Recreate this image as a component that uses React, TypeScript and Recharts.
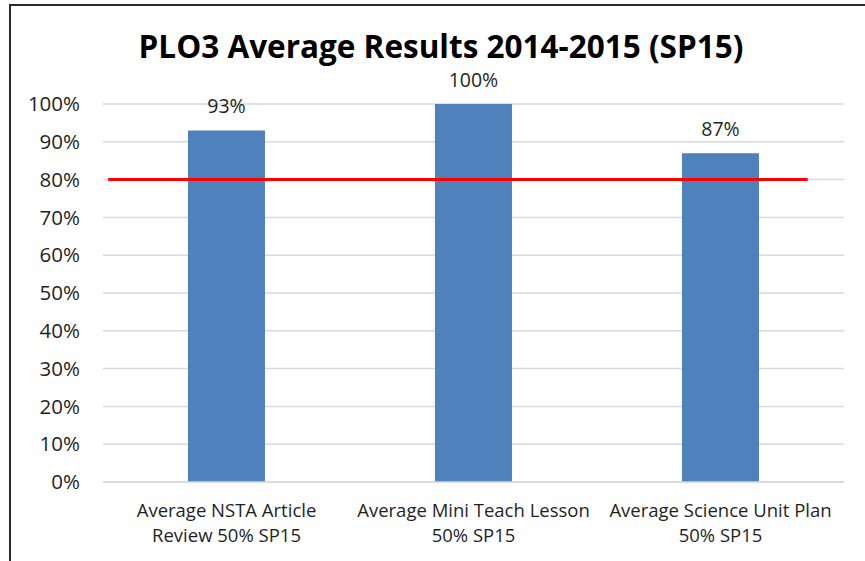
import React from "react";
import { ComposedChart, Bar, Line, XAxis, YAxis, CartesianGrid, LabelList } from "recharts";

const categories = [
  "Average NSTA Article\nReview 50% SP15",
  "Average Mini Teach Lesson\n50% SP15",
  "Average Science Unit Plan\n50% SP15",
];
const averages = [93, 100, 87];
const yTicks = [0, 10, 20, 30, 40, 50, 60, 70, 80, 90, 100];
const targetValue = 80;
const targetSpan = [0.7, 95.1];

const data = categories.map((name, i) => ({ name, value: averages[i] }));
const targetData = targetSpan.map((x) => ({ x, target: targetValue }));

const FONT = "'Open Sans', 'Noto Sans', sans-serif";
const TEXT = "#1f1f1f";

const CategoryTick = (props: any) => {
  const { x, y, payload } = props;
  const lines = String(payload.value).split("\n");
  return (
    <text x={x} y={y} textAnchor="middle" fill={TEXT} fontSize={18.5} fontFamily={FONT}>
      {lines.map((l, i) => (
        <tspan key={i} x={x} dy={i === 0 ? 35 : 25}>
          {l}
        </tspan>
      ))}
    </text>
  );
};

export default function App() {
  return (
    <div style={{ position: "absolute", left: 0, top: 0, width: 865, height: 561, background: "#fff" }}>
      <div
        style={{
          position: "absolute",
          left: 9,
          top: 4,
          width: 856,
          height: 557,
          borderTop: "2px solid #2b2b35",
          borderLeft: "2px solid #2b2b35",
          boxSizing: "border-box",
        }}
      />
      <div
        style={{
          position: "absolute",
          left: 0,
          top: 30,
          width: 882,
          textAlign: "center",
          fontFamily: FONT,
          fontWeight: 700,
          fontSize: 31.5,
          color: "#000",
          lineHeight: "32px",
        }}
      >
        PLO3 Average Results 2014-2015 (SP15)
      </div>
      <div style={{ position: "absolute", left: 0, top: 0 }}>
        <ComposedChart
          width={865}
          height={561}
          data={data}
          margin={{ top: 104, right: 21, bottom: 0, left: 0 }}
          barCategoryGap="34.4%"
        >
          <CartesianGrid vertical={false} stroke="#d9d9d9" strokeWidth={1.5} />
          <XAxis
            dataKey="name"
            height={79}
            axisLine={{ stroke: "#d9d9d9", strokeWidth: 1.5 }}
            tickLine={false}
            tickSize={0}
            tickMargin={0}
            interval={0}
            tick={<CategoryTick />}
          />
          <XAxis
            xAxisId="ref"
            dataKey="x"
            type="number"
            domain={[0, 100]}
            allowDataOverflow
            hide
          />
          <YAxis
            width={103}
            domain={[0, 100]}
            ticks={yTicks}
            interval={0}
            axisLine={false}
            tickLine={false}
            tickSize={0}
            tickMargin={23}
            tickFormatter={(v: number) => `${v}%`}
            tick={{ fill: TEXT, fontSize: 20.5, fontFamily: FONT }}
          />
          <Bar dataKey="value" fill="#4f81bd" isAnimationActive={false}>
            <LabelList
              dataKey="value"
              position="top"
              offset={17}
              formatter={(v: number) => `${v}%`}
              style={{ fill: TEXT, fontSize: 19.5, fontFamily: FONT }}
            />
          </Bar>
          <Line
            xAxisId="ref"
            data={targetData}
            dataKey="target"
            stroke="#ff0000"
            strokeWidth={3}
            dot={false}
            activeDot={false}
            isAnimationActive={false}
          />
        </ComposedChart>
      </div>
    </div>
  );
}
